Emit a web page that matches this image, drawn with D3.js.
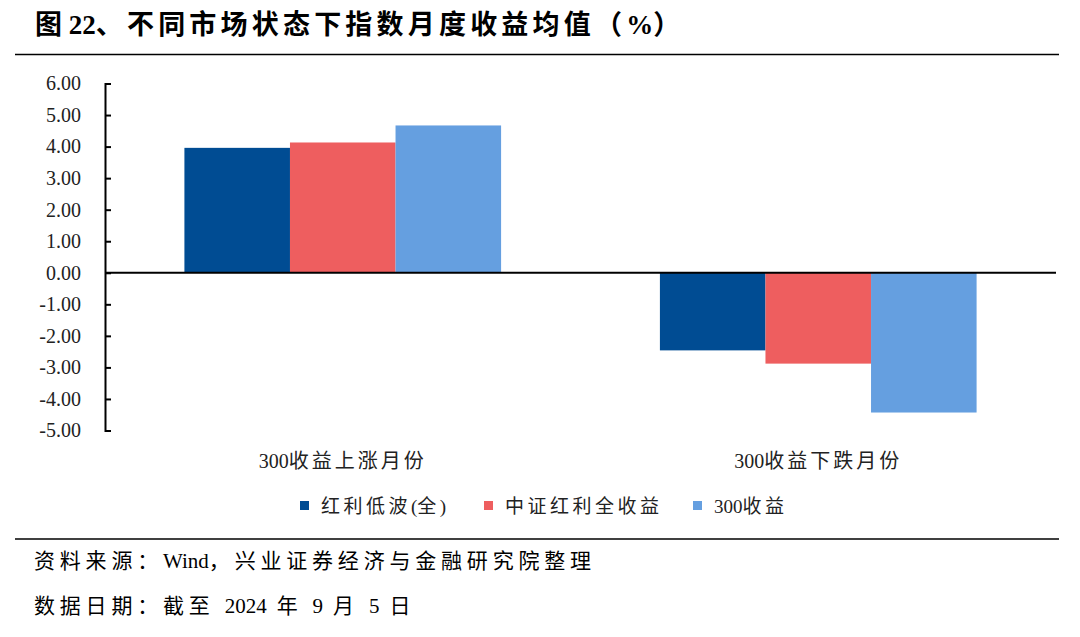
<!DOCTYPE html>
<html>
<head>
<meta charset="utf-8">
<script src="https://cdn.jsdelivr.net/npm/d3@7"></script>
<style>
  html, body { margin: 0; padding: 0; background: #fff; }
  svg { display: block; }
  text { font-family: "Liberation Serif", "Times New Roman", "Noto Sans CJK SC", serif; }
</style>
</head>
<body>
<svg id="chart" width="1080" height="637"></svg>
<script>
const categories = ["300收益上涨月份", "300收益下跌月份"];
const seriesNames = ["红利低波(全)", "中证红利全收益", "300收益"];
const valuesLowVol = [3.96, -2.46];
const valuesDividend = [4.13, -2.88];
const valuesCSI300 = [4.67, -4.43];
const yTicks = [6, 5, 4, 3, 2, 1, 0, -1, -2, -3, -4, -5];
const colors = ["#004C93", "#EE5E5F", "#659FE0"];

const series = [valuesLowVol, valuesDividend, valuesCSI300];
const svg = d3.select("#chart");

// Append text with letter-spacing applied only to CJK runs and spaces
function mixedText(sel, str, cjkSpacing) {
  const runs = str.match(/[A-Za-z0-9.()%]+|[^A-Za-z0-9.()%]+/g) || [];
  runs.forEach(r => {
    const ascii = /^[A-Za-z0-9.()%]+$/.test(r);
    sel.append("tspan").attr("letter-spacing", ascii ? 0 : cjkSpacing).text(r);
  });
  return sel;
}

// Title
const title = svg.append("text")
  .attr("x", 35).attr("y", 34)
  .attr("font-size", 27).attr("font-weight", "bold")
  .attr("fill", "#000");
title.append("tspan").attr("letter-spacing", 0).text("图 22");
title.append("tspan").attr("letter-spacing", 4.2).text("、不同市场状态下指数月度收益均值（");
title.append("tspan").attr("letter-spacing", 0).text("%");
title.append("tspan").text("）");

svg.append("line").attr("x1", 15).attr("x2", 1059).attr("y1", 54.5).attr("y2", 54.5)
  .attr("stroke", "#000").attr("stroke-width", 1.5);
svg.append("line").attr("x1", 15).attr("x2", 1059).attr("y1", 539).attr("y2", 539)
  .attr("stroke", "#000").attr("stroke-width", 1.5);

const y = d3.scaleLinear().domain([-5, 6]).range([430.5, 83.5]);
const x0 = d3.scaleBand().domain(categories).range([105, 1056]).paddingInner(0.334).paddingOuter(0.167);
const x1 = d3.scaleBand().domain(d3.range(seriesNames.length)).range([0, x0.bandwidth()]);

// Bars
const g = svg.append("g");
categories.forEach((c, ci) => {
  series.forEach((vals, si) => {
    const v = vals[ci];
    g.append("rect")
      .attr("x", x0(c) + x1(si))
      .attr("width", x1.bandwidth())
      .attr("y", y(Math.max(0, v)))
      .attr("height", Math.abs(y(v) - y(0)))
      .attr("fill", colors[si]);
  });
});

// Y axis
const yAxis = d3.axisLeft(y)
  .tickValues(yTicks)
  .tickFormat(d => d.toFixed(2))
  .tickSizeInner(-6).tickSizeOuter(-6).tickPadding(24);
const ag = svg.append("g").attr("transform", "translate(105,0)").call(yAxis);
ag.select(".domain").attr("stroke", "#000").attr("stroke-width", 2);
ag.selectAll(".tick line").attr("stroke", "#000").attr("stroke-width", 2);
ag.selectAll(".tick text").attr("font-size", 20).attr("fill", "#222")
  .attr("font-family", "'Liberation Serif', 'Times New Roman', serif");

// Zero line
svg.append("line").attr("x1", 105).attr("x2", 1056).attr("y1", y(0)).attr("y2", y(0))
  .attr("stroke", "#000").attr("stroke-width", 2);

// Category labels
categories.forEach(c => {
  const t = svg.append("text")
    .attr("x", x0(c) + x0.bandwidth() / 2).attr("y", 468)
    .attr("text-anchor", "middle").attr("font-size", 20).attr("fill", "#222");
  mixedText(t, c, 3);
});

// Legend
const legendX = [300, 484, 693];
seriesNames.forEach((n, i) => {
  svg.append("rect").attr("x", legendX[i]).attr("y", 501).attr("width", 9).attr("height", 9)
    .attr("fill", colors[i]);
  const t = svg.append("text").attr("x", legendX[i] + 21).attr("y", 513)
    .attr("font-size", 19).attr("fill", "#222");
  mixedText(t, n, 3.5);
});

// Footnotes
mixedText(svg.append("text").attr("x", 34).attr("y", 568).attr("font-size", 21).attr("fill", "#000"),
  "资料来源：Wind，兴业证券经济与金融研究院整理", 4.8);
mixedText(svg.append("text").attr("x", 34).attr("y", 613).attr("font-size", 21).attr("fill", "#000"),
  "数据日期：截至 2024 年 9 月 5 日", 4.8);
</script>
</body>
</html>
